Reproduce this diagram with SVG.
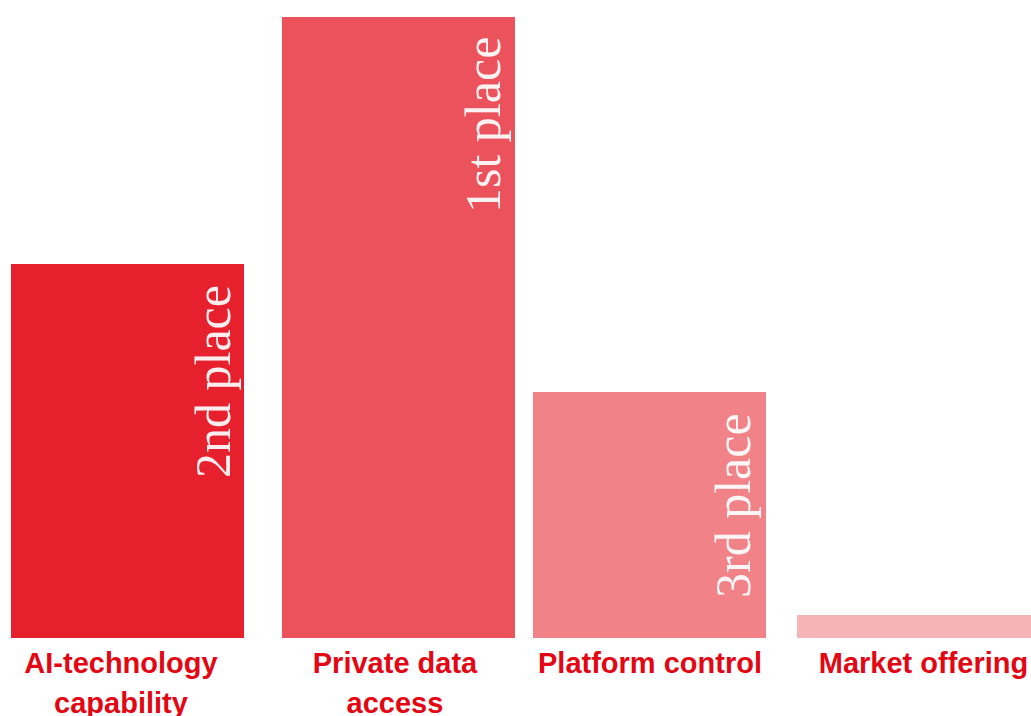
<svg xmlns="http://www.w3.org/2000/svg" width="1031" height="716" viewBox="0 0 1031 716">
  <style>
    .rank { font-family: "Liberation Serif", "DejaVu Serif", serif; font-size: 50px; fill: #ffffff; fill-opacity: 0.92; }
    .lbl { font-family: "Liberation Sans", Arial, sans-serif; font-size: 29px; font-weight: bold; fill: #E30613; text-anchor: middle; }
  </style>
  <rect width="1031" height="716" fill="#ffffff"/>
  <g id="connectors"></g>
  <g id="bar-ai">
    <rect x="11" y="264" width="233" height="374" fill="#E6202C"/>
    <text class="rank" transform="translate(230,478) rotate(-90)">2nd place</text>
    <text class="lbl" x="121" y="673">AI-technology</text>
    <text class="lbl" x="121" y="713">capability</text>
  </g>
  <g id="bar-private">
    <rect x="282" y="17" width="233" height="621" fill="#EC525B"/>
    <text class="rank" transform="translate(500,213) rotate(-90)">1st place</text>
    <text class="lbl" x="395" y="673">Private data</text>
    <text class="lbl" x="395" y="713">access</text>
  </g>
  <g id="bar-platform">
    <rect x="533" y="392" width="233" height="246" fill="#F08288"/>
    <text class="rank" transform="translate(750,598) rotate(-90)">3rd place</text>
    <text class="lbl" x="650" y="673">Platform control</text>
  </g>
  <g id="bar-market">
    <rect x="797" y="615" width="234" height="23" fill="#F5B4B7"/>
    <text class="lbl" x="923.5" y="673">Market offering</text>
  </g>
</svg>
